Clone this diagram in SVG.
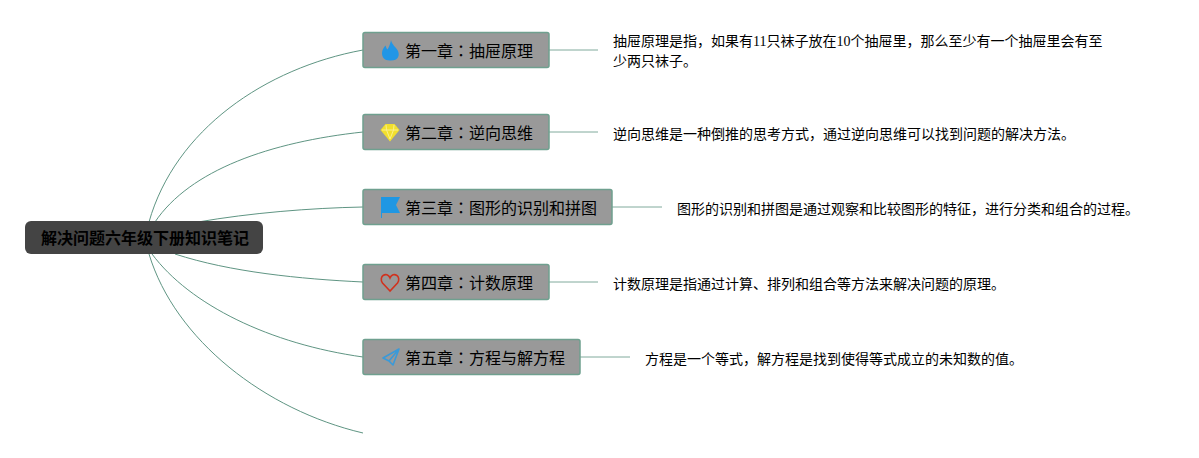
<svg xmlns="http://www.w3.org/2000/svg" width="1199" height="458" viewBox="0 0 1199 458">
<style>
text{font-family:"Liberation Serif","Noto Sans CJK SC",serif;fill:#000}
.t{font-size:16px}
.d{font-size:14px}
.k{font-family:"Noto Sans CJK TC",sans-serif}
.n{fill:#999;stroke:#6fa08f;stroke-width:1.5}
.c{fill:none;stroke:#5f9583;stroke-width:1}
.l{fill:none;stroke:#5f9583;stroke-width:.8}
</style>
<rect width="1199" height="458" fill="#fff"/>
<g id="connectors">
<path class="c" d="M149 222C175 130 265 68 363 50"/>
<path class="c" d="M155 222C190 170 270 142 363 132"/>
<path class="c" d="M198 222C250 213 310 208 363 207"/>
<path class="c" d="M175 254C230 272 300 279 363 282"/>
<path class="c" d="M152 254C190 305 270 344 363 357"/>
<path class="c" d="M149 254C175 340 265 410 363 433"/>
<path class="l" d="M549 50H598M549 132H598M612 207H662M549 282H598M580 357H630"/>
</g>
<g id="root">
<rect x="25" y="221" width="238" height="33" rx="6" fill="#444"/>
<text x="41" y="244" font-size="16" font-weight="700">解决问题六年级下册知识笔记</text>
</g>
<g id="n1">
<rect class="n" x="363" y="32.500" width="186" height="35" rx="2"/>
<path d="M391 40C392 45 396 47 398 51C400 56 398 61 390 60.500C384 60.500 382 57 382 53C382 50 384 47 385.500 45.500C386 47 386.500 48.500 387.500 49.500C389 47 390.500 43 391 40Z" fill="#2196e6"/>
<text class="t" x="405" y="57">第一章<tspan class="k">：</tspan>抽屉原理</text>
<text class="d" x="613" y="46">抽屉原理是指，如果有11只袜子放在10个抽屉里，那么至少有一个抽屉里会有至</text>
<text class="d" x="613" y="66">少两只袜子。</text>
</g>
<g id="n2">
<rect class="n" x="363" y="114.500" width="186" height="35" rx="2"/>
<path d="M385.500 124H394.500L399.500 130L390 141.500L380.500 130Z" fill="#f2e02e"/>
<path d="M382 130H398M386 125L386.500 130L390 139L393.500 130L394 125" fill="none" stroke="#fbf08c" stroke-width="1"/>
<text class="t" x="405" y="138.500">第二章<tspan class="k">：</tspan>逆向思维</text>
<text class="d" x="613" y="139">逆向思维是一种倒推的思考方式，通过逆向思维可以找到问题的解决方法。</text>
</g>
<g id="n3">
<rect class="n" x="363" y="189.500" width="249" height="35" rx="2"/>
<path d="M381 197H400L396 205L400 213H382V218H381Z" fill="#1f97e3"/>
<text class="t" x="405" y="214">第三章<tspan class="k">：</tspan>图形的识别和拼图</text>
<text class="d" x="677" y="214">图形的识别和拼图是通过观察和比较图形的特征，进行分类和组合的过程。</text>
</g>
<g id="n4">
<rect class="n" x="363" y="264.500" width="186" height="35" rx="2"/>
<path d="M390 291L382.500 283C378 276 387 271 390 278C393 271 402 276 397.500 283Z" fill="none" stroke="#d1321e" stroke-width="1.600"/>
<text class="t" x="405" y="289">第四章<tspan class="k">：</tspan>计数原理</text>
<text class="d" x="613" y="289">计数原理是指通过计算、排列和组合等方法来解决问题的原理。</text>
</g>
<g id="n5">
<rect class="n" x="363" y="339.500" width="217" height="35" rx="2"/>
<path d="M399 349L383 358L389 361L393 365ZM399 349L389 361" fill="none" stroke="#3a9ad9" stroke-width="1.600" stroke-linejoin="round"/>
<text class="t" x="405" y="364">第五章<tspan class="k">：</tspan>方程与解方程</text>
<text class="d" x="645" y="364">方程是一个等式，解方程是找到使得等式成立的未知数的值。</text>
</g>
</svg>
